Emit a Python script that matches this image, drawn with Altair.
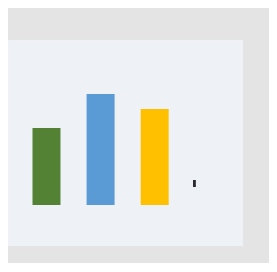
import altair as alt
import pandas as pd

# bar data (category index, value, colour)
categories = ["A", "B", "C", "D"]
positions = [0, 1, 2, 3]
values = [40, 77, 111, 96]
colors = ["#44546a", "#548235", "#5b9bd5", "#ffc000"]

# small marker
marker_x = [3.708]
marker_x2 = [3.761]
marker_y = [18]
marker_y2 = [25]

bars_df = pd.DataFrame({"cat": categories, "pos": positions, "value": values, "color": colors})
marker_df = pd.DataFrame({"x": marker_x, "x2": marker_x2, "y": marker_y, "y2": marker_y2})

xscale = alt.Scale(domain=[0.381, 4.540], nice=False, zero=False)
yscale = alt.Scale(domain=[-41, 165], nice=False, zero=False)

bars = alt.Chart(bars_df).mark_bar(size=28, clip=True).encode(
    x=alt.X("pos:Q", scale=xscale, axis=None),
    y=alt.Y("value:Q", scale=yscale, axis=None),
    y2=alt.datum(0),
    color=alt.Color("color:N", scale=None, legend=None),
)

marker = alt.Chart(marker_df).mark_rect(color="#2a2a30").encode(
    x=alt.X("x:Q", scale=xscale, axis=None),
    x2="x2:Q",
    y=alt.Y("y:Q", scale=yscale, axis=None),
    y2="y2:Q",
)

chart = alt.layer(bars, marker).properties(
    width=235,
    height=206,
    background="#e4e4e4",
    padding={"left": 0, "top": 32, "right": 26, "bottom": 17},
    autosize=alt.AutoSizeParams(type="none"),
).configure_view(fill="#eef2f7", stroke=None)

chart.save("out.html", embed_options={"renderer": "svg", "actions": False})
